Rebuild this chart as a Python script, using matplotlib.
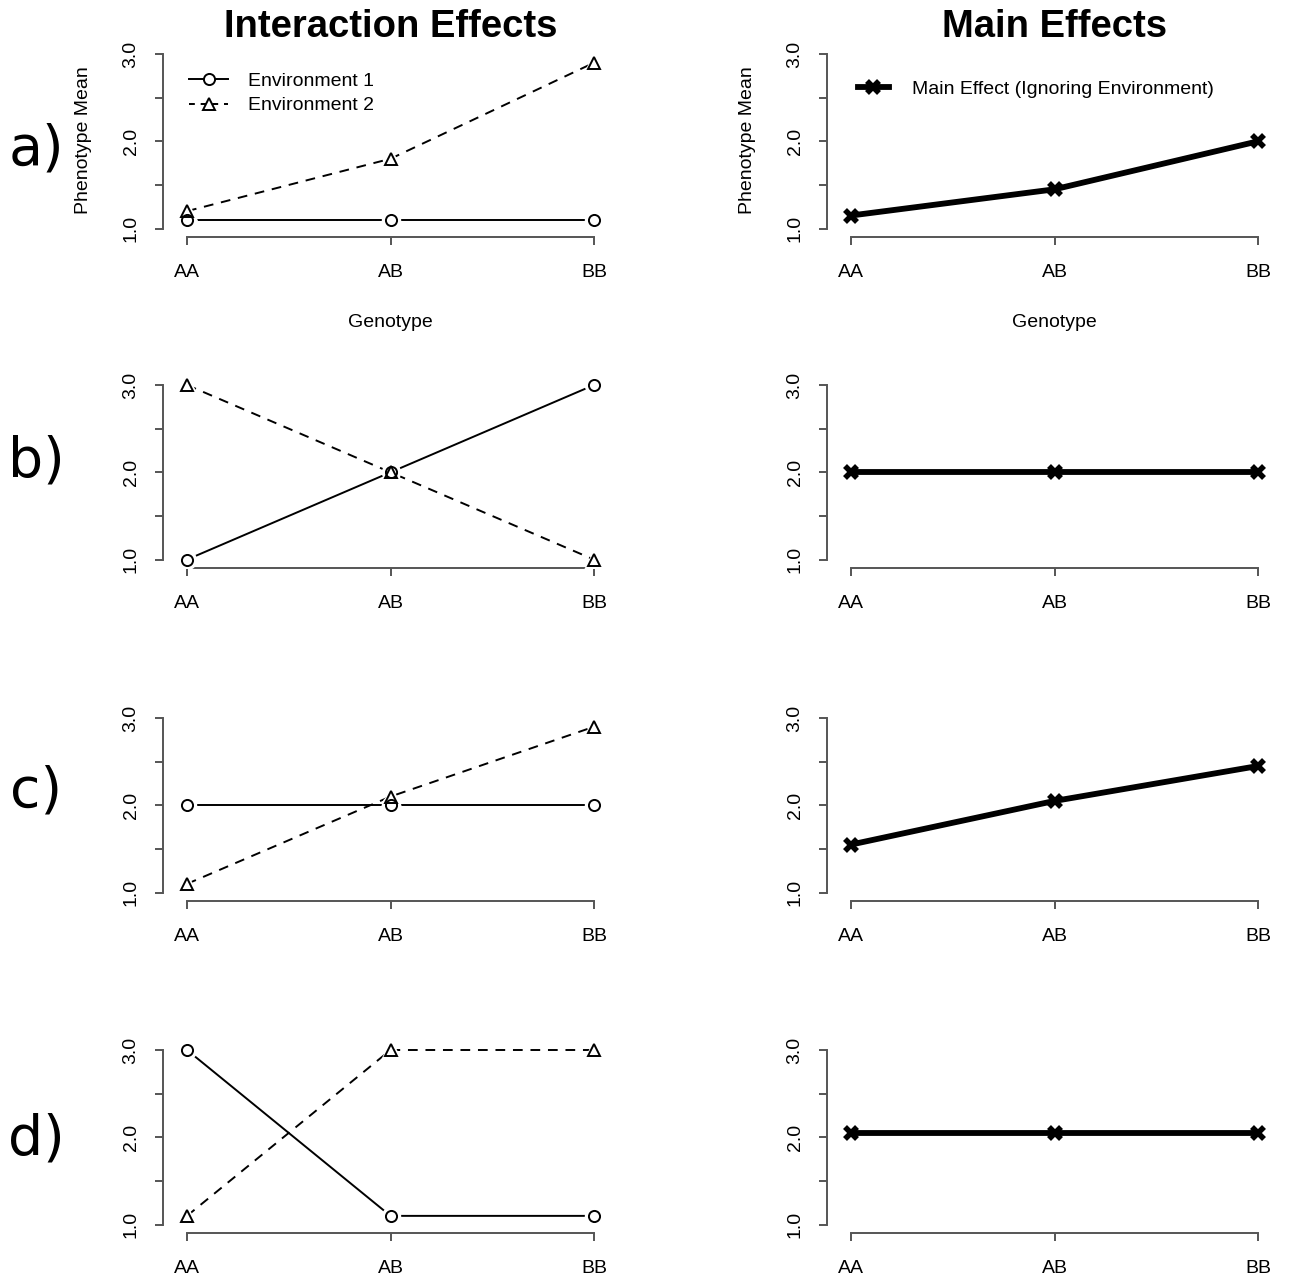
import matplotlib
matplotlib.use("Agg")
import matplotlib.pyplot as plt
import numpy as np
from matplotlib.lines import Line2D

genotypes = ["AA", "AB", "BB"]
row_labels = ["a)", "b)", "c)", "d)"]
env1 = [[1.1, 1.1, 1.1], [1.0, 2.0, 3.0], [2.0, 2.0, 2.0], [3.0, 1.1, 1.1]]
env2 = [[1.2, 1.8, 2.9], [3.0, 2.0, 1.0], [1.1, 2.1, 2.9], [1.1, 3.0, 3.0]]
main = [[1.15, 1.45, 2.0], [2.0, 2.0, 2.0], [1.55, 2.05, 2.45], [2.05, 2.05, 2.05]]
yticks = [1.0, 1.5, 2.0, 2.5, 3.0]
ytick_labels = ["1.0", "", "2.0", "", "3.0"]

W, H = 1291, 1281
DPI = 100
fig = plt.figure(figsize=(W / DPI, H / DPI), dpi=DPI)
plt.rcParams['font.family'] = ['Liberation Sans', 'DejaVu Sans']

AXCOL = '#555555'
unit_x = 203.5
unit_y = 87.3
col_aa = [187, 851]
row_y3 = [54, 385, 718, 1050]
xlim = (0.88, 3.12)
ylim = (0.9, 3.1)


def make_ax(col, row):
    left = col_aa[col] - (1 - xlim[0]) * unit_x
    width = (xlim[1] - xlim[0]) * unit_x
    top = row_y3[row] - (ylim[1] - 3) * unit_y
    height = (ylim[1] - ylim[0]) * unit_y
    ax = fig.add_axes([left / W, 1 - (top + height) / H, width / W, height / H])
    ax.set_xlim(*xlim)
    ax.set_ylim(*ylim)
    for s in ['top', 'right']:
        ax.spines[s].set_visible(False)
    ax.spines['left'].set_bounds(1, 3)
    ax.spines['bottom'].set_bounds(1, 3)
    for s in ['left', 'bottom']:
        ax.spines[s].set_color(AXCOL)
        ax.spines[s].set_linewidth(1.4)
    ax.set_xticks([1, 2, 3])
    ax.set_xticklabels(genotypes)
    ax.set_yticks(yticks)
    ax.set_yticklabels(ytick_labels, rotation=90, va='center')
    ax.tick_params(axis='both', direction='out', length=5.5, width=1.4,
                   color=AXCOL, labelsize=14, labelcolor='black')
    ax.tick_params(axis='x', pad=14)
    ax.tick_params(axis='y', pad=11)
    ax.patch.set_visible(False)
    return ax


x = np.array([1, 2, 3])
for r in range(4):
    axL = make_ax(0, r)
    # Environment 1
    axL.plot(x, env1[r], color='black', lw=1.4, zorder=2)
    axL.plot(x, env1[r], ls='none', marker='o', ms=13, mfc='white', mec='white', zorder=3)
    axL.plot(x, env1[r], ls='none', marker='o', ms=8, mfc='none', mec='black', mew=1.4, zorder=4)
    # Environment 2
    axL.plot(x, env2[r], color='black', lw=1.4, dashes=(5, 4), zorder=2)
    axL.plot(x, env2[r], ls='none', marker='^', ms=14, mfc='white', mec='white', zorder=3)
    axL.plot(x, env2[r], ls='none', marker='^', ms=9, mfc='none', mec='black', mew=1.4, zorder=4)

    axR = make_ax(1, r)
    axR.plot(x, main[r], color='black', lw=4.2, solid_capstyle='butt', zorder=2,
             marker='x', ms=9, mew=4.0, mec='black')

    fig.text(36 / W, 1 - [150, 462, 792, 1140][r] / H, row_labels[r],
             fontsize=40, family='DejaVu Sans', ha='center', va='center')

    if r == 0:
        h1 = Line2D([], [], color='black', lw=1.4, marker='o', ms=8, mfc='white', mec='black', mew=1.4)
        h2 = Line2D([], [], color='black', lw=1.4, dashes=(3, 3), marker='^', ms=9, mfc='white', mec='black', mew=1.4)
        axL.legend([h1, h2], ["Environment 1", "Environment 2"], loc='upper left',
                   bbox_to_anchor=(0.02, 0.95), frameon=False, fontsize=14,
                   handlelength=2.0, handletextpad=1.0, labelspacing=0.35)
        h3 = Line2D([], [], color='black', lw=4.2, marker='x', ms=9, mew=4.0)
        axR.legend([h3], ["Main Effect (Ignoring Environment)"], loc='upper left',
                   bbox_to_anchor=(0.03, 0.91), frameon=False, fontsize=14,
                   handlelength=1.6, handletextpad=1.2)
        for c, ax in enumerate([axL, axR]):
            cx = col_aa[c] + unit_x
            fig.text(cx / W, 1 - 322 / H, "Genotype", fontsize=14, ha='center', va='center')
            fig.text((col_aa[c] - 104) / W, 1 - 140 / H, "Phenotype Mean", fontsize=14,
                     rotation=90, ha='center', va='center')
        fig.text((col_aa[0] + unit_x) / W, 1 - 27 / H, "Interaction Effects",
                 fontsize=27.5, fontweight='bold', ha='center', va='center')
        fig.text((col_aa[1] + unit_x) / W, 1 - 27 / H, "Main Effects",
                 fontsize=27.5, fontweight='bold', ha='center', va='center')

fig.savefig("out.png", dpi=DPI)
